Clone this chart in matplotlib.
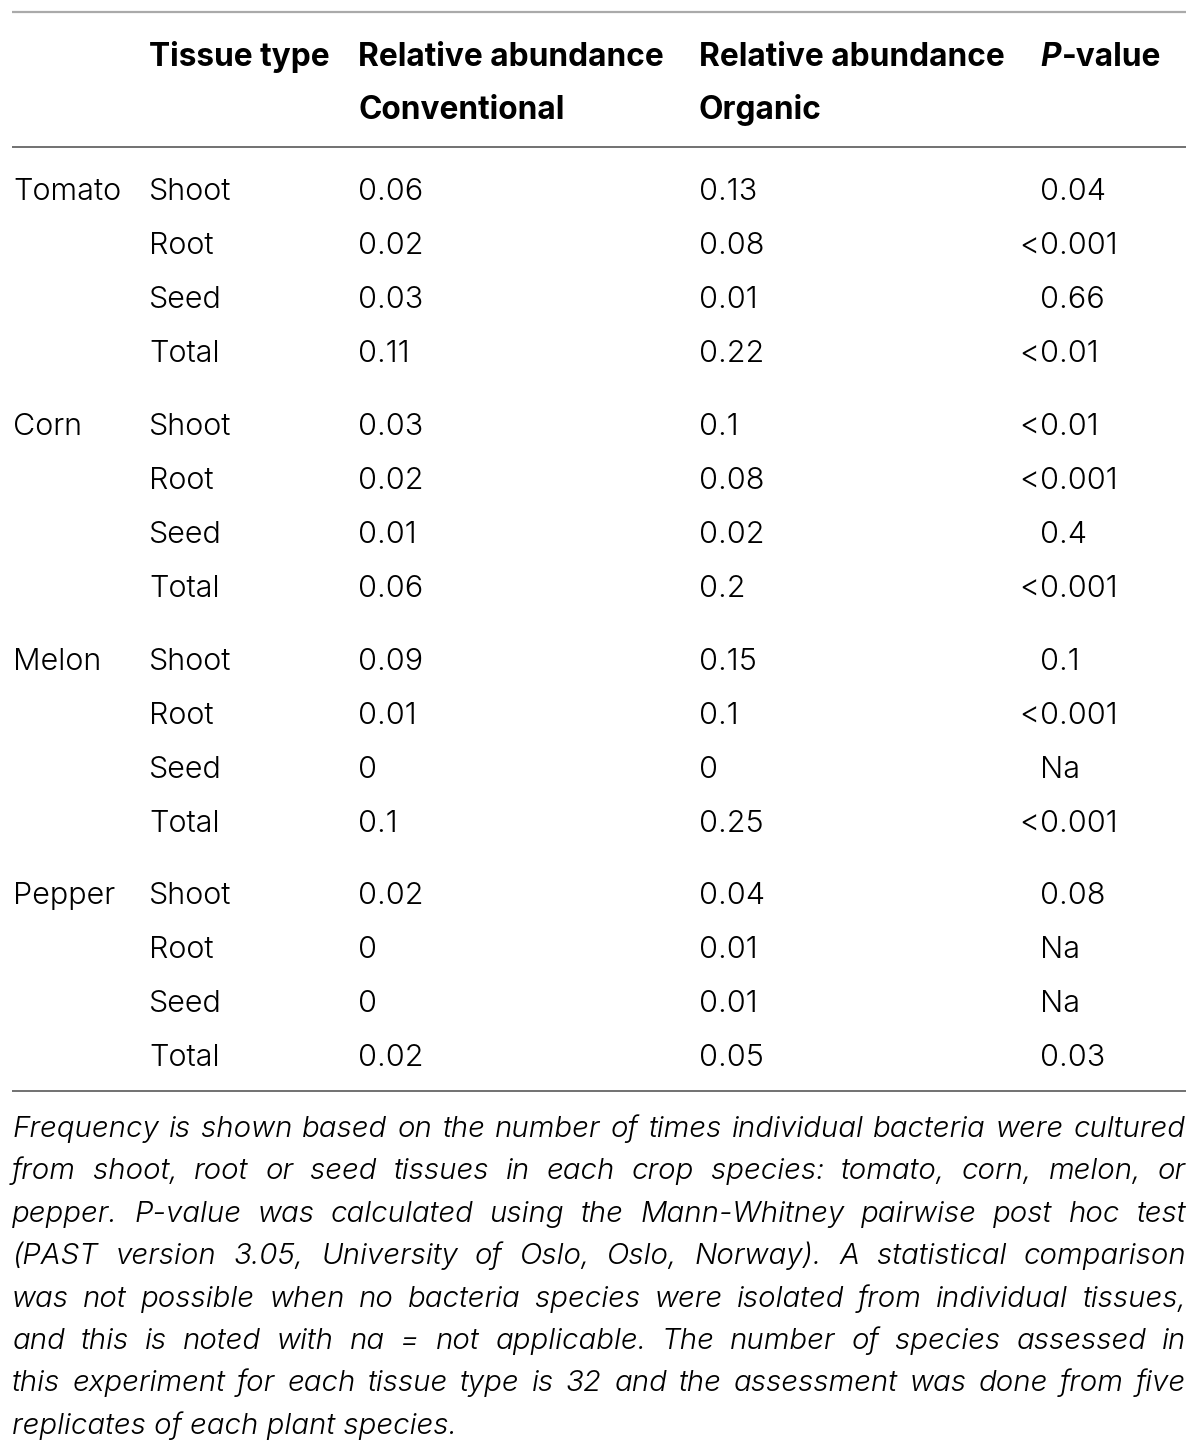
import matplotlib
matplotlib.use("Agg")
import matplotlib.pyplot as plt

# ---------------- data ----------------
crops = ["Tomato", "Corn", "Melon", "Pepper"]
tissues = ["Shoot", "Root", "Seed", "Total"]
conventional = ["0.06", "0.02", "0.03", "0.11",
                "0.03", "0.02", "0.01", "0.06",
                "0.09", "0.01", "0", "0.1",
                "0.02", "0", "0", "0.02"]
organic = ["0.13", "0.08", "0.01", "0.22",
           "0.1", "0.08", "0.02", "0.2",
           "0.15", "0.1", "0", "0.25",
           "0.04", "0.01", "0.01", "0.05"]
pvalues = ["0.04", "<0.001", "0.66", "<0.01",
           "<0.01", "<0.001", "0.4", "<0.001",
           "0.1", "<0.001", "Na", "<0.001",
           "0.08", "Na", "Na", "0.03"]
header_tissue = "Tissue type"
header_conv = ["Relative abundance", "Conventional"]
header_org = ["Relative abundance", "Organic"]
footnote_lines = [
    "Frequency is shown based on the number of times individual bacteria were cultured",
    "from shoot, root or seed tissues in each crop species: tomato, corn, melon, or",
    "pepper. P-value was calculated using the Mann-Whitney pairwise post hoc test",
    "(PAST version 3.05, University of Oslo, Oslo, Norway). A statistical comparison",
    "was not possible when no bacteria species were isolated from individual tissues,",
    "and this is noted with na = not applicable. The number of species assessed in",
    "this experiment for each tissue type is 32 and the assessment was done from five",
    "replicates of each plant species.",
]

# ---------------- layout ----------------
W, H = 1200, 1454
FONT = ["Inter", "DejaVu Sans"]
FS = 22.0
FS_HEAD = 22.8
FS_NOTE = 21.2
TXT = "black"

fig = plt.figure(figsize=(W / 100, H / 100), dpi=100)
ax = fig.add_axes([0, 0, 1, 1])
ax.set_xlim(0, W)
ax.set_ylim(H, 0)
ax.axis("off")

x_crop, x_tis, x_conv, x_org, x_p = 13, 149, 358, 699, 1040
x_left, x_right = 12, 1186

# rules
ax.plot([x_left, x_right], [12, 12], color="#aaaaaa", lw=1.6, solid_capstyle="butt")
ax.plot([x_left, x_right], [147, 147], color="#666666", lw=1.3, solid_capstyle="butt")
ax.plot([x_left, x_right], [1091, 1091], color="#666666", lw=1.3, solid_capstyle="butt")

# header
hb1, hb2 = 66, 119
kw_h = dict(family=FONT, fontsize=FS_HEAD, fontweight="bold", color="black", va="baseline")
ax.text(x_tis, hb1, header_tissue, **kw_h)
ax.text(x_conv, hb1, header_conv[0], **kw_h)
ax.text(x_conv, hb2, header_conv[1], **kw_h)
ax.text(x_org, hb1, header_org[0], **kw_h)
ax.text(x_org, hb2, header_org[1], **kw_h)
tP = ax.text(x_p, hb1, "P", fontstyle="italic", **kw_h)
fig.canvas.draw()
renderer = fig.canvas.get_renderer()
bbP = tP.get_window_extent(renderer)
ax.text(x_p + bbP.width + 1, hb1, "-value", **kw_h)

# body
kw = dict(family=FONT, fontsize=FS, fontweight=300, color=TXT, va="baseline")
y0, step, gstep = 200.5, 54, 18.5
for i in range(len(conventional)):
    g, r = divmod(i, len(tissues))
    yb = y0 + i * step + g * gstep
    if r == 0:
        ax.text(x_crop, yb, crops[g], **kw)
    ax.text(x_tis, yb, tissues[r], **kw)
    ax.text(x_conv, yb, conventional[i], **kw)
    ax.text(x_org, yb, organic[i], **kw)
    pv = pvalues[i]
    if pv.startswith("<"):
        ax.text(x_p - 1, yb, "<", ha="right", **kw)
        ax.text(x_p, yb, pv[1:], **kw)
    else:
        ax.text(x_p, yb, pv, **kw)

# footnote (justified)
kw_n = dict(family=FONT, fontsize=FS_NOTE, fontweight=300, fontstyle="italic", color=TXT, va="baseline")
nb0, nstep = 1137, 42.4


def width(s):
    t = ax.text(0, 0, s, **kw_n)
    w = t.get_window_extent(renderer).width
    t.remove()
    return w


for k, line in enumerate(footnote_lines):
    yb = nb0 + k * nstep
    words = line.split(" ")
    if k == len(footnote_lines) - 1:
        ax.text(x_left, yb, line, **kw_n)
        continue
    ws = [width(w) for w in words]
    gap = (x_right - x_left - sum(ws)) / (len(words) - 1)
    x = x_left
    for w, wd in zip(words, ws):
        ax.text(x, yb, w, **kw_n)
        x += wd + gap

fig.savefig("out.png", dpi=100, facecolor="white")
